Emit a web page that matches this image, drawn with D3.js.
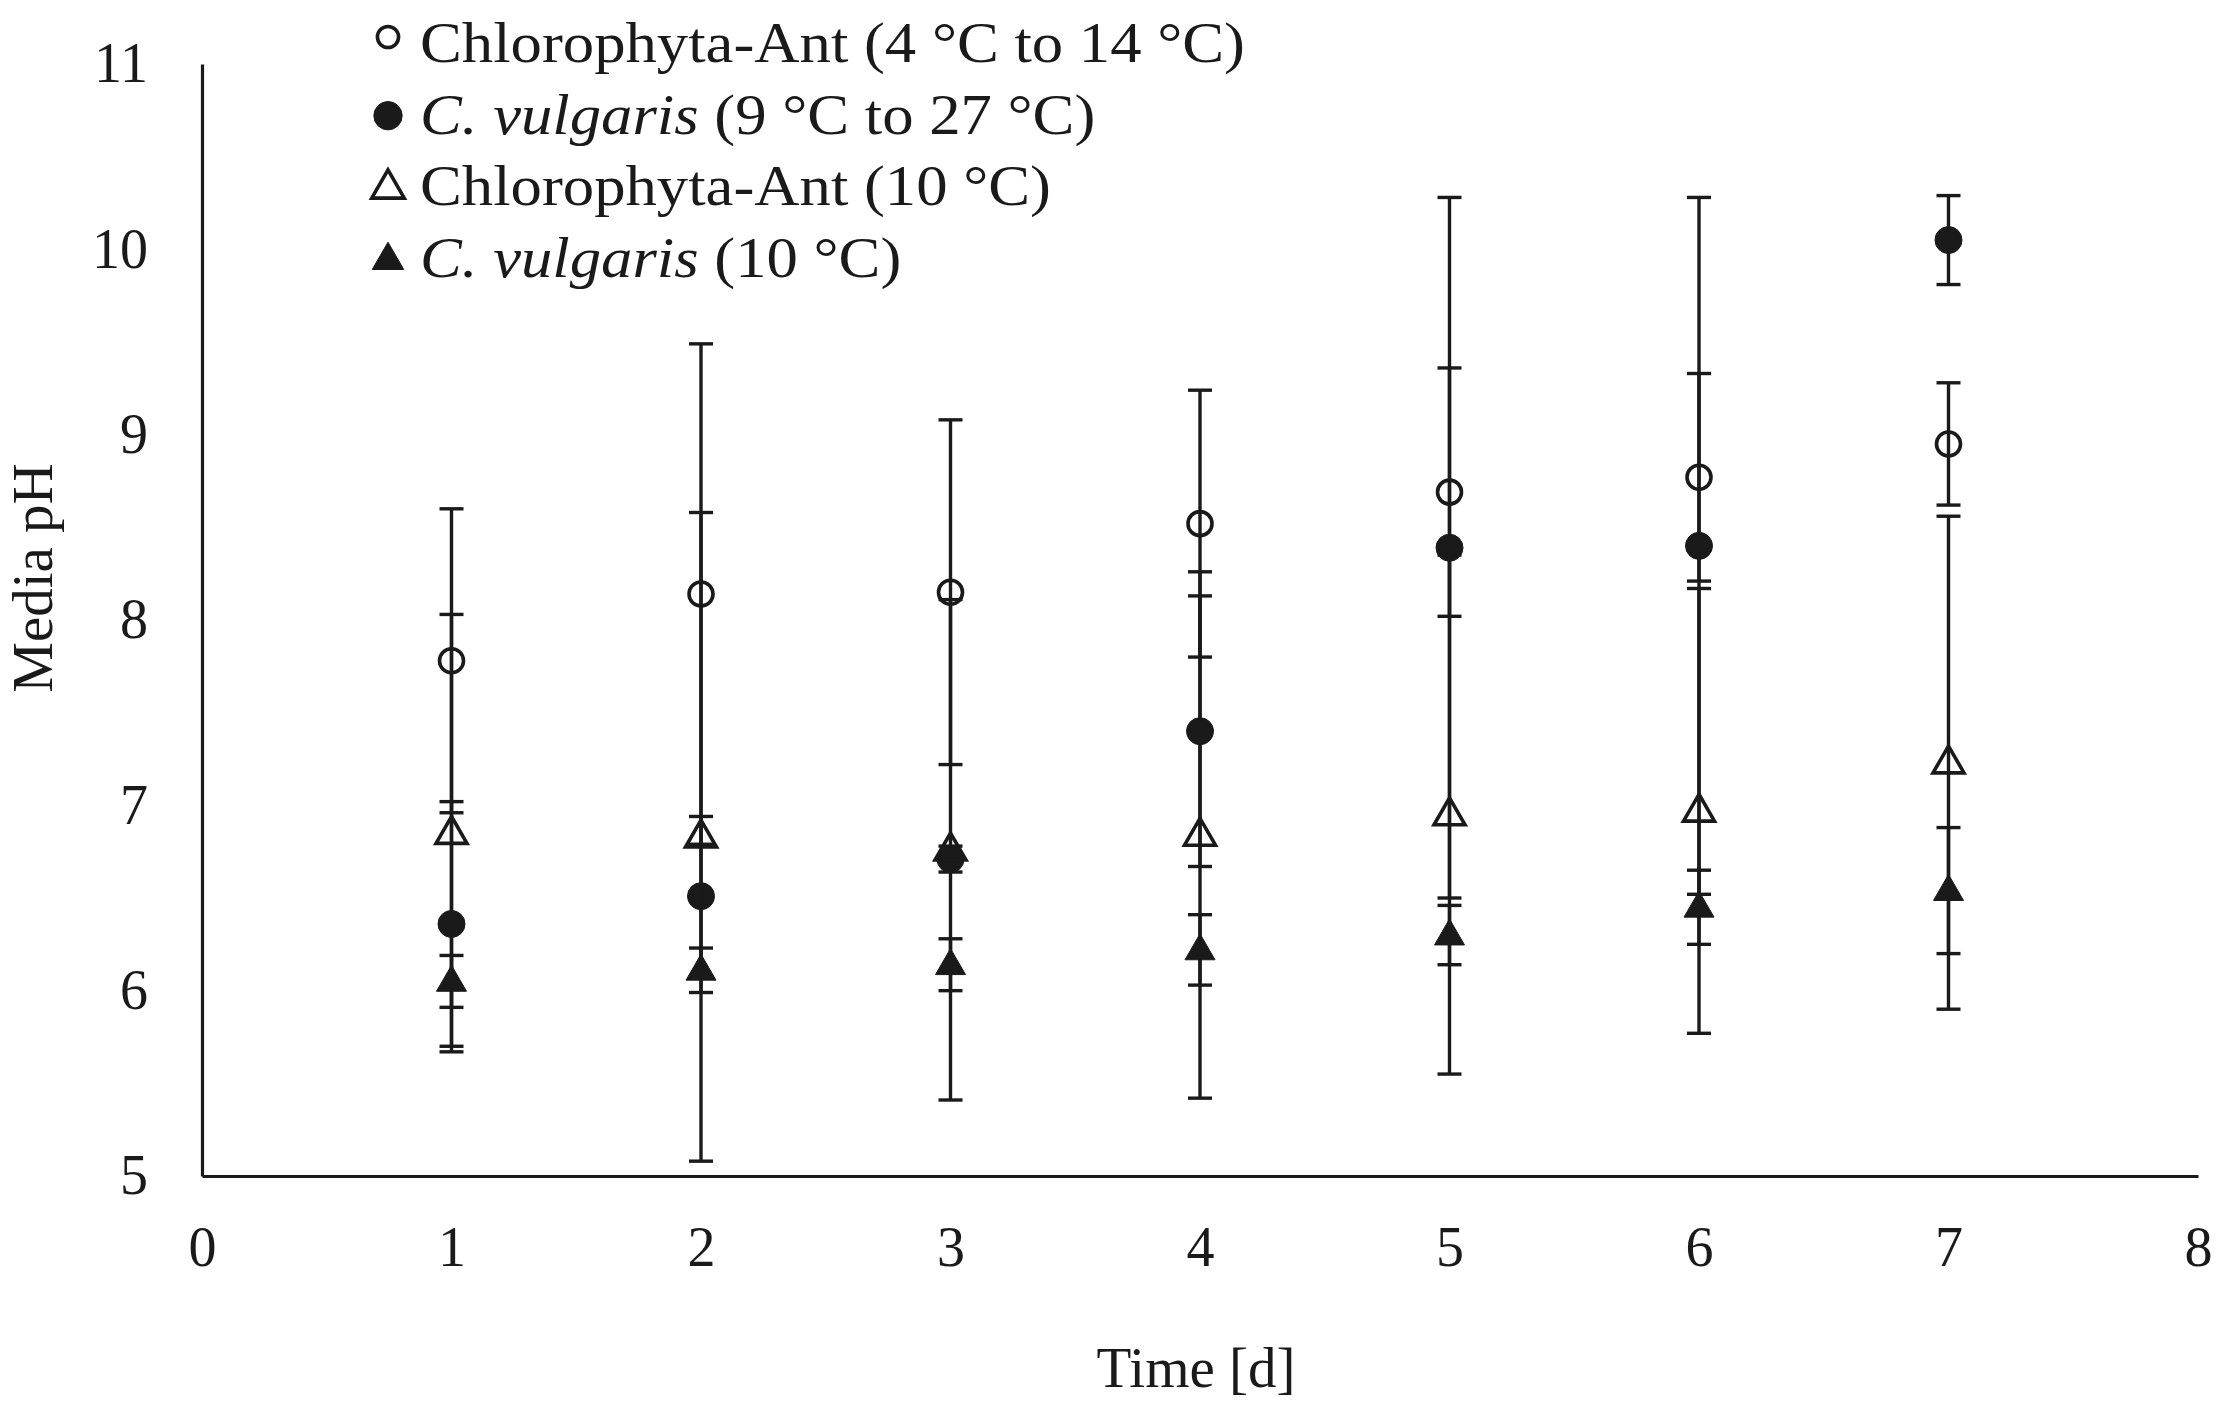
<!DOCTYPE html>
<html>
<head>
<meta charset="utf-8">
<script src="https://cdn.jsdelivr.net/npm/d3@7/dist/d3.min.js"></script>
<style>
  html, body { margin: 0; padding: 0; background: #fff; }
  svg { display: block; }
  text { font-family: "Liberation Serif", "Times New Roman", serif; fill: #1a1a1a; }
</style>
</head>
<body>
<svg id="chart" width="2217" height="1405"></svg>
<script>
// ---- data ----
const days = [1, 2, 3, 4, 5, 6, 7];
const xTicks = [0, 1, 2, 3, 4, 5, 6, 7, 8];
const yTicks = [5, 6, 7, 8, 9, 10, 11];

const antVarMean = [7.78, 8.14, 8.15, 8.52, 8.69, 8.77, 8.95];   // Chlorophyta-Ant (4 °C to 14 °C)
const antVarErr  = [0.82, 1.35, 0.93, 0.72, 0.67, 0.56, 0.33];
const vulVarMean = [6.36, 6.51, 6.71, 7.40, 8.39, 8.40, 10.05];  // C. vulgaris (9 °C to 27 °C)
const vulVarErr  = [0.66, 0.43, 0.07, 0.73, 1.89, 1.88, 0.24];
const ant10Mean  = [6.85, 6.83, 6.76, 6.84, 6.95, 6.97, 7.23];   // Chlorophyta-Ant (10 °C)
const ant10Err   = [1.18, 1.75, 1.35, 1.42, 1.40, 1.20, 1.33];
const vul10Mean  = [6.05, 6.11, 6.14, 6.22, 6.30, 6.45, 6.54];   // C. vulgaris (10 °C)
const vul10Err   = [0.14, 0.12, 0.14, 0.19, 0.16, 0.20, 0.34];

const series = [
  { name: "Chlorophyta-Ant", italic: false, suffix: " (4 °C to 14 °C)", shape: "circle",   filled: false, mean: antVarMean, err: antVarErr },
  { name: "C. vulgaris",     italic: true,  suffix: " (9 °C to 27 °C)", shape: "circle",   filled: true,  mean: vulVarMean, err: vulVarErr },
  { name: "Chlorophyta-Ant", italic: false, suffix: " (10 °C)",         shape: "triangle", filled: false, mean: ant10Mean,  err: ant10Err },
  { name: "C. vulgaris",     italic: true,  suffix: " (10 °C)",         shape: "triangle", filled: true,  mean: vul10Mean,  err: vul10Err }
];

// ---- layout ----
const ink = "#1a1a1a";
const svg = d3.select("#chart");
const x = d3.scaleLinear().domain([0, 8]).range([202, 2198]);
const y = d3.scaleLinear().domain([5, 11]).range([1176, 64]);

// axes
const xAxis = svg.append("g").attr("transform", `translate(0,${y(5)})`)
  .call(d3.axisBottom(x).tickValues(xTicks).tickSize(0).tickPadding(50).tickFormat(d3.format("d")));
xAxis.select(".domain").attr("stroke", ink).attr("stroke-width", 3.2);
xAxis.selectAll("text").attr("font-size", 56).attr("fill", ink)
  .style("font-family", "'Liberation Serif', serif");

const yAxis = svg.append("g").attr("transform", `translate(${x(0)},0)`)
  .call(d3.axisLeft(y).tickValues(yTicks).tickSize(0).tickPadding(54).tickFormat(d3.format("d")));
yAxis.select(".domain").attr("stroke", ink).attr("stroke-width", 3.2);
yAxis.selectAll("text").attr("font-size", 56).attr("fill", ink)
  .style("font-family", "'Liberation Serif', serif");

// axis titles
svg.append("text").attr("x", 1196).attr("y", 1387).attr("text-anchor", "middle")
  .attr("font-size", 57).text("Time [d]");
svg.append("text").attr("transform", "translate(52,578) rotate(-90)").attr("text-anchor", "middle")
  .attr("font-size", 57).text("Media pH");

// marker drawing
const triPath = (s) => {
  const h = s * Math.sqrt(3) / 2;
  return `M0,${-h * 0.62} L${s / 2},${h * 0.38} L${-s / 2},${h * 0.38} Z`;
};
function drawMarker(g, shape, filled, cx, cy, scale = 1) {
  if (shape === "circle") {
    g.append("circle").attr("cx", cx).attr("cy", cy).attr("r", (filled ? 13.5 : 12) * scale)
      .attr("fill", filled ? ink : "none").attr("stroke", ink).attr("stroke-width", filled ? 1 : 3.6);
  } else {
    g.append("path").attr("d", triPath((filled ? 30 : 31) * scale))
      .attr("transform", `translate(${cx},${cy})`)
      .attr("fill", filled ? ink : "none").attr("stroke", ink)
      .attr("stroke-width", filled ? 1 : 3.6).attr("stroke-linejoin", "miter");
  }
}

// error bars + markers
const plot = svg.append("g");
const capW = 12;
series.forEach((s) => {
  const g = plot.append("g");
  days.forEach((d, i) => {
    const cx = x(d);
    const hi = Math.min(11, s.mean[i] + s.err[i]);
    const lo = Math.max(5, s.mean[i] - s.err[i]);
    g.append("line").attr("x1", cx).attr("x2", cx).attr("y1", y(hi)).attr("y2", y(lo))
      .attr("stroke", ink).attr("stroke-width", 3.4);
    [hi, lo].forEach((v) => {
      g.append("line").attr("x1", cx - capW).attr("x2", cx + capW).attr("y1", y(v)).attr("y2", y(v))
        .attr("stroke", ink).attr("stroke-width", 3.4);
    });
  });
  days.forEach((d, i) => drawMarker(g, s.shape, s.filled, x(d), y(s.mean[i])));
});

// legend
const legend = svg.append("g");
series.forEach((s, i) => {
  const base = 62 + i * 71.7;
  const openCircle = (s.shape === "circle" && !s.filled);
  drawMarker(legend, s.shape, s.filled, 388, base - (openCircle ? 25 : 18), openCircle ? 0.88 : 1.05);
  const t = legend.append("text").attr("transform", `translate(420,${base}) scale(1.1,1)`)
    .attr("font-size", 57);
  t.append("tspan").attr("font-style", s.italic ? "italic" : "normal").text(s.name);
  t.append("tspan").text(s.suffix);
});
</script>
</body>
</html>
